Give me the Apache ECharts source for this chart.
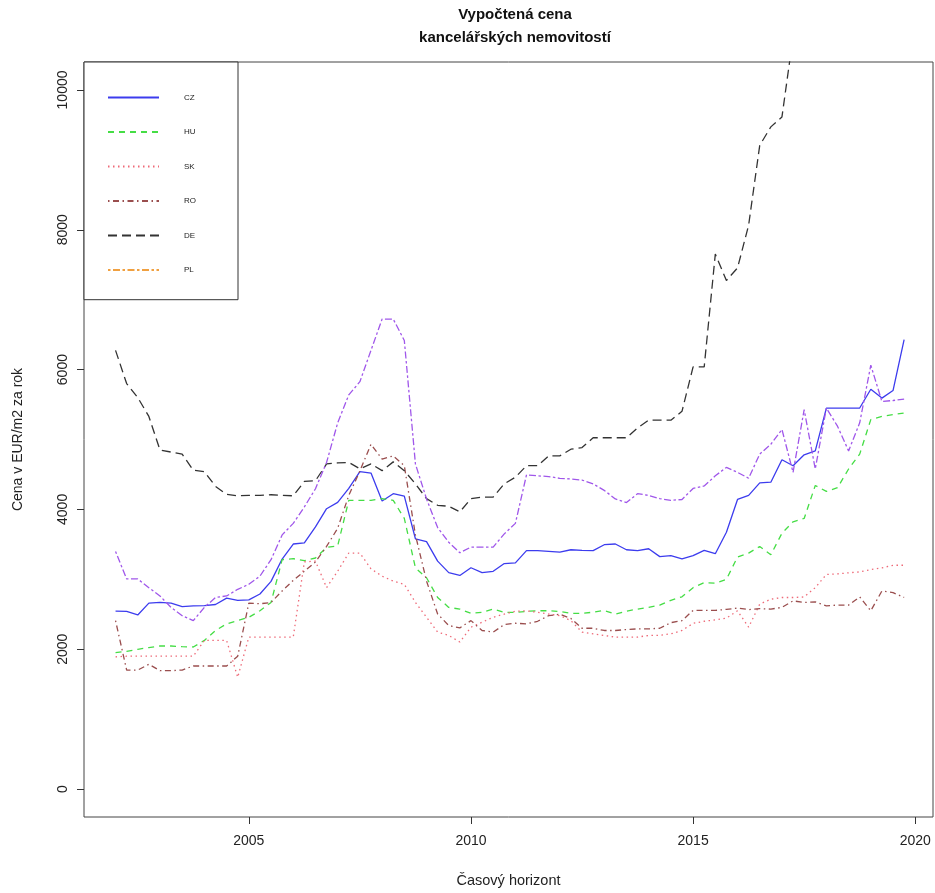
<!DOCTYPE html>
<html>
<head>
<meta charset="utf-8">
<script src="https://cdn.jsdelivr.net/npm/echarts@6/dist/echarts.min.js"></script>
<style>
  html, body { margin: 0; padding: 0; background: #fff; }
  #chart { width: 935px; height: 893px; }
</style>
</head>
<body>
<div id="chart"></div>
<script>
// quarterly observations, 2002 Q1 .. 2019 Q4
var startYear = 2002;
var step = 0.25;

var names = ["CZ", "HU", "SK", "RO", "DE", "PL"];

var cz = [2545, 2540, 2490, 2660, 2670, 2660, 2610, 2620, 2625, 2640, 2730, 2700,
  2705, 2790, 2970, 3290, 3505, 3520, 3750, 4010, 4100, 4300, 4540, 4520,
  4120, 4225, 4190, 3580, 3540, 3260, 3095, 3055, 3165, 3095, 3115, 3225,
  3235, 3410, 3410, 3400, 3390, 3423, 3415, 3410, 3495, 3505, 3423, 3410,
  3437, 3325, 3340, 3293, 3338, 3413, 3366, 3673, 4142, 4200, 4380, 4389,
  4710, 4625, 4781, 4837, 5450, 5450, 5450, 5450, 5719, 5592, 5700, 6430];

var hu = [1952, 1970, 1999, 2023, 2046, 2046, 2037, 2032, 2126, 2268, 2362, 2409,
  2457, 2550, 2669, 3281, 3295, 3267, 3305, 3456, 3479, 4130, 4130, 4130,
  4154, 4130, 3871, 3164, 3022, 2740, 2598, 2574, 2513, 2527, 2574, 2527,
  2527, 2542, 2550, 2550, 2540, 2513, 2513, 2530, 2555, 2500, 2545, 2574,
  2598, 2630, 2700, 2750, 2881, 2952, 2945, 3000, 3320, 3375, 3470, 3352,
  3659, 3823, 3871, 4342, 4257, 4310, 4578, 4791, 5285, 5332, 5356, 5379];

var sk = [1891, 1900, 1900, 1900, 1900, 1900, 1900, 1900, 2126, 2126, 2126, 1598,
  2174, 2174, 2174, 2174, 2174, 3250, 3260, 2881, 3116, 3376, 3376, 3150,
  3045, 2975, 2928, 2669, 2457, 2245, 2197, 2103, 2315, 2386, 2457, 2503,
  2542, 2550, 2527, 2503, 2480, 2409, 2245, 2221, 2197, 2174, 2174, 2174,
  2197, 2200, 2220, 2268, 2370, 2400, 2420, 2445, 2550, 2315, 2645, 2716,
  2740, 2740, 2748, 2881, 3069, 3078, 3093, 3106, 3140, 3164, 3201, 3201];

var ro = [2409, 1702, 1702, 1784, 1693, 1693, 1702, 1760, 1760, 1760, 1760, 1900,
  2660, 2650, 2669, 2833, 2985, 3116, 3249, 3470, 3730, 4200, 4550, 4932,
  4720, 4766, 4625, 3635, 2975, 2503, 2339, 2306, 2409, 2268, 2245, 2352,
  2372, 2362, 2400, 2480, 2500, 2440, 2300, 2300, 2268, 2268, 2282, 2291,
  2291, 2300, 2380, 2409, 2555, 2555, 2555, 2570, 2588, 2567, 2580, 2574,
  2598, 2692, 2669, 2678, 2621, 2631, 2631, 2748, 2550, 2833, 2810, 2740];

// DE leaves the plot at the top after 2017 Q2
var de = [6275, 5800, 5600, 5330, 4850, 4820, 4790, 4560, 4540, 4330, 4215, 4195,
  4200, 4200, 4210, 4200, 4195, 4400, 4410, 4650, 4665, 4672, 4580, 4650,
  4554, 4680, 4554, 4366, 4154, 4059, 4045, 3965, 4154, 4177, 4177, 4366,
  4460, 4625, 4625, 4766, 4766, 4861, 4884, 5025, 5025, 5025, 5025, 5167,
  5276, 5276, 5276, 5403, 6039, 6039, 7652, 7275, 7454, 8066, 9208, 9472,
  9614, 10760];

var pl = [3399, 3005, 3005, 2880, 2762, 2598, 2480, 2409, 2598, 2740, 2762, 2857,
  2928, 3045, 3281, 3635, 3800, 4035, 4296, 4672, 5238, 5639, 5827, 6276,
  6723, 6723, 6417, 4650, 4150, 3740, 3530, 3380, 3461, 3461, 3461, 3650,
  3800, 4494, 4480, 4470, 4445, 4435, 4420, 4366, 4272, 4150, 4098, 4225,
  4200, 4154, 4130, 4142, 4300, 4335, 4480, 4601, 4530, 4446, 4791, 4932,
  5144, 4530, 5427, 4578, 5450, 5191, 4837, 5238, 6063, 5544, 5558, 5577];

var xTicks = [2005, 2010, 2015, 2020];
var yTicks = [0, 2000, 4000, 6000, 8000, 10000];

var seriesValues = [cz, hu, sk, ro, de, pl];
var colors = ["#3c3cee", "#45dd45", "#ee6a78", "#9a4e4e", "#333333", "#a057ea"];
var dashes = ["solid", [6, 5], [1.5, 3.5], [1.5, 3.5, 6, 3.5], [9, 5], [2.5, 2.5, 7, 2.5]];

function toPoints(vals) {
  return vals.map(function (v, i) { return [startYear + i * step, v]; });
}

var font = "Liberation Sans, Arial, Helvetica, sans-serif";

var series = names.map(function (n, k) {
  return {
    name: n,
    type: "line",
    data: toPoints(seriesValues[k]),
    symbol: "none",
    clip: true,
    color: colors[k],
    lineStyle: { color: colors[k], width: 1.3, type: dashes[k] },
  };
});

var legendData = names.map(function (n) {
  if (n === "PL") {
    return { name: n, lineStyle: { color: "#f0a040" } };
  }
  return { name: n };
});

var myChart = echarts.init(document.getElementById("chart"));
var option = {
  animation: false,
  backgroundColor: "#fff",
  title: {
    text: "Vypočtená cena\nkancelářských nemovitostí",
    left: 510,
    top: -2,
    textAlign: "center",
    textStyle: { fontFamily: font, fontSize: 15, fontWeight: "bold", color: "#111", lineHeight: 23 },
  },
  legend: {
    data: legendData,
    orient: "vertical",
    left: 84,
    top: 62,
    icon: "inherit",
    itemWidth: 51,
    itemHeight: 14,
    itemGap: 23.3,
    padding: [30, 42, 24, 23],
    borderColor: "#333",
    borderWidth: 1,
    backgroundColor: "#fff",
    selectedMode: false,
    itemStyle: { opacity: 0 },
    textStyle: { fontFamily: font, fontSize: 8, color: "#222", padding: [0, 0, 0, 20] },
  },
  grid: {
    left: 84,
    right: 2,
    top: 62,
    bottom: 66,
    show: true,
    borderColor: "#444",
    borderWidth: 1,
    containLabel: false,
  },
  xAxis: {
    type: "value",
    min: 2001.29,
    max: 2020.4,
    name: "Časový horizont",
    nameLocation: "middle",
    nameGap: 56,
    nameTextStyle: { fontFamily: font, fontSize: 14.5, color: "#222" },
    axisLine: { show: false, onZero: false },
    splitLine: { show: false },
    axisTick: { show: true, length: 7, customValues: xTicks, lineStyle: { color: "#333" } },
    axisLabel: {
      customValues: xTicks, margin: 17, fontFamily: font, fontSize: 14, color: "#222",
      formatter: function (v) { return String(v); },
    },
  },
  yAxis: {
    type: "value",
    min: -400,
    max: 10400,
    name: "Cena v EUR/m2 za rok",
    nameLocation: "middle",
    nameGap: 59,
    nameRotate: 90,
    nameTextStyle: { fontFamily: font, fontSize: 14, color: "#222" },
    axisLine: { show: false, onZero: false },
    splitLine: { show: false },
    axisTick: { show: true, length: 7, customValues: yTicks, lineStyle: { color: "#333" } },
    axisLabel: {
      customValues: yTicks, rotate: 90, margin: 14, fontFamily: font, fontSize: 14, color: "#222",
      formatter: function (v) { return String(v); },
    },
  },
  series: series,
};
myChart.setOption(option);
</script>
</body>
</html>
